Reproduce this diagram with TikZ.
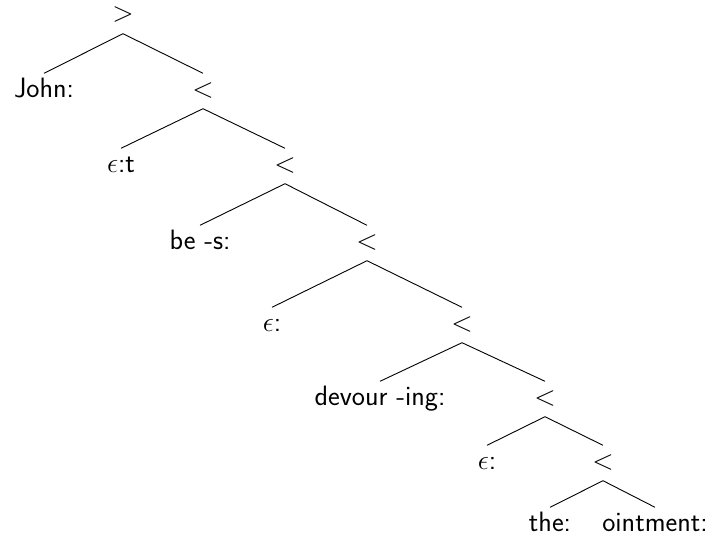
\RequirePackage{fix-cm}
\documentclass[tikz,border=0pt]{standalone}
\begin{document}
\begin{tikzpicture}[x=1pt,y=-1pt,
  lbl/.style={anchor=base, inner xsep=0pt, inner ysep=4.5pt, text height=19pt, text depth=7pt,
    font=\fontsize{28}{32}\selectfont\sffamily},
  edge/.style={line width=0.9pt}]
\useasboundingbox (0,0) rectangle (714,535);
\node[lbl] (r)  at (123,22)  {$>$};
\node[lbl] (john) at (44,97) {John:};
\node[lbl] (n1) at (203,97)  {$<$};
\node[lbl] (e1) at (121,172) {$\epsilon$:t};
\node[lbl] (n2) at (285,172) {$<$};
\node[lbl] (bes) at (200,249) {be -s:};
\node[lbl] (n3) at (367,249) {$<$};
\node[lbl] (e2) at (272,331) {$\epsilon$:};
\node[lbl] (n4) at (462,331) {$<$};
\node[lbl] (dev) at (380,405) {devour -ing:};
\node[lbl] (n5) at (545,405) {$<$};
\node[lbl] (e3) at (487,469) {$\epsilon$:};
\node[lbl] (n6) at (603,469) {$<$};
\node[lbl] (the) at (550,531) {the:};
\node[lbl] (oint) at (655,531) {ointment:};
\draw[edge] (r.south) -- (john.north);
\draw[edge] (r.south) -- (n1.north);
\draw[edge] (n1.south) -- (e1.north);
\draw[edge] (n1.south) -- (n2.north);
\draw[edge] (n2.south) -- (bes.north);
\draw[edge] (n2.south) -- (n3.north);
\draw[edge] (n3.south) -- (e2.north);
\draw[edge] (n3.south) -- (n4.north);
\draw[edge] (n4.south) -- (dev.north);
\draw[edge] (n4.south) -- (n5.north);
\draw[edge] (n5.south) -- (e3.north);
\draw[edge] (n5.south) -- (n6.north);
\draw[edge] (n6.south) -- (the.north);
\draw[edge] (n6.south) -- (oint.north);
\end{tikzpicture}
\end{document}
